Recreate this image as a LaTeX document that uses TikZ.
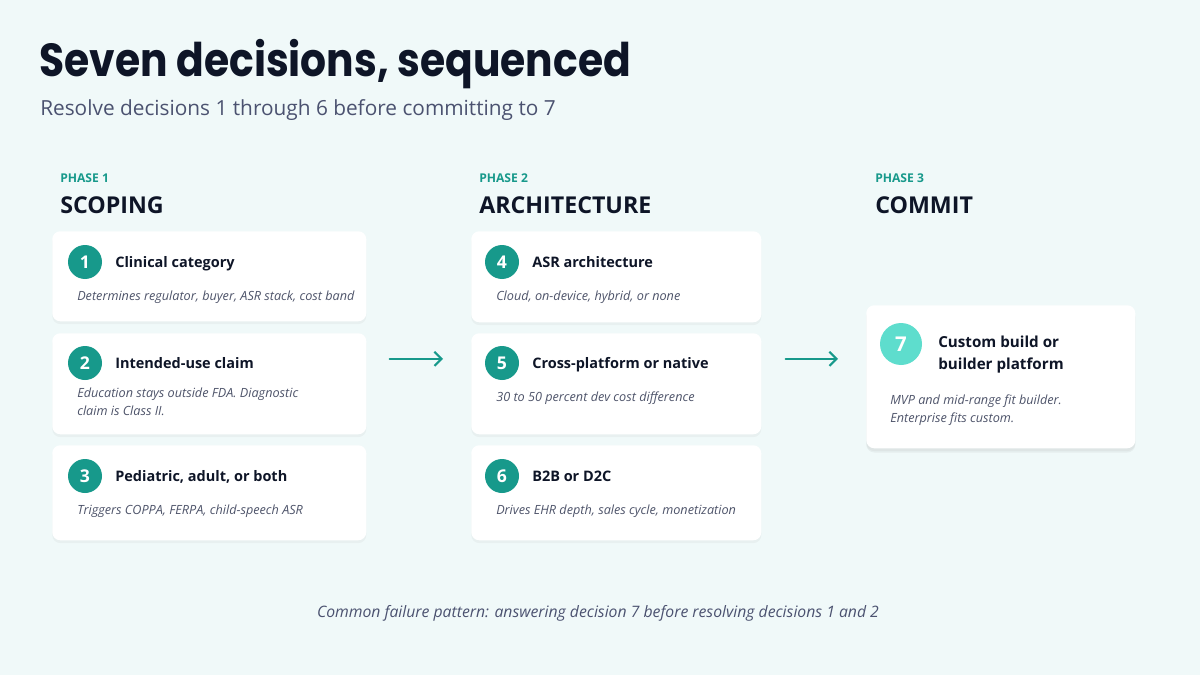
\documentclass[tikz,border=0pt]{standalone}
\usepackage{fontspec}
\setmainfont{Open Sans}
\newfontfamily\headfont{Poppins}
\usetikzlibrary{shadows,arrows.meta}

\definecolor{bgmint}{HTML}{F0F9F9}
\definecolor{tealmain}{HTML}{17998B}
\definecolor{teallight}{HTML}{5EDDCD}
\definecolor{inkdark}{HTML}{0E1527}
\definecolor{inkgray}{HTML}{4B5270}
\definecolor{descgray}{HTML}{4E546A}

\begin{document}
\begin{tikzpicture}[x=0.025cm,y=-0.025cm]

\def\px{0.025cm}

\tikzstyle{card} = [anchor=north west,fill=white,rounded corners=0.2cm,inner sep=0pt,drop shadow={shadow xshift=0pt,shadow yshift=-2pt,opacity=0.07}];
\tikzstyle{numdot} = [circle,fill=tealmain,minimum size=34*\px,inner sep=0pt,text=white,font=\bfseries\fontsize{12.5}{14}\selectfont];
\tikzstyle{ctitle} = [anchor=base west,inner sep=0pt,text=inkdark,font=\bfseries\fontsize{10.3}{15.6}\selectfont,align=left];
\tikzstyle{cdesc} = [anchor=base west,inner sep=0pt,text=descgray,font=\itshape\fontsize{9}{12.8}\selectfont,align=left];
\tikzstyle{phase} = [anchor=base west,inner sep=0pt,text=tealmain,font=\bfseries\fontsize{8.6}{10}\selectfont];
\tikzstyle{stage} = [anchor=base west,inner sep=0pt,text=inkdark,font=\bfseries\fontsize{16.5}{20}\selectfont];
\tikzstyle{flow} = [draw=tealmain,line width=1.5pt,line cap=round,-{Straight Barb[length=5pt,width=10pt,line width=1.5pt]}];

\useasboundingbox (0,0) rectangle (1200,675);
\fill [bgmint] (0,0) rectangle (1200,675);

\node [anchor=base west,inner sep=0pt,text=inkdark,font=\headfont\bfseries\fontsize{33}{38}\selectfont] (title) at (39,77) {\scalebox{0.88}[1]{Seven decisions, sequenced}};
\node [anchor=base west,inner sep=0pt,text=inkgray,font=\fontsize{14.8}{17}\selectfont] (subtitle) at (40,116) {Resolve decisions 1 through 6 before committing to 7};

\begin{scope}

\node [phase] (ph1) at (60,183) {PHASE 1};
\node [stage] (st1) at (60,214) {SCOPING};

\node [card,minimum width=314*\px,minimum height=90*\px] (c1) at (52,231) {};
\node [numdot] (n1) at ([xshift=33*\px,yshift=-31*\px]c1.north west) {1};
\node [ctitle] (t1) at ([xshift=30*\px,yshift=-5*\px]n1.center) {Clinical category};
\node [cdesc] (d1) at ([xshift=25*\px,yshift=-69*\px]c1.north west) {Determines regulator, buyer, ASR stack, cost band};

\node [card,minimum width=314*\px,minimum height=101*\px] (c2) at (52,333) {};
\node [numdot] (n2) at ([xshift=33*\px,yshift=-30*\px]c2.north west) {2};
\node [ctitle] (t2) at ([xshift=30*\px,yshift=-5*\px]n2.center) {Intended-use claim};
\node [cdesc] (d2) at ([xshift=25*\px,yshift=-82*\px]c2.north west) {Education stays outside FDA. Diagnostic\\claim is Class II.};

\node [card,minimum width=314*\px,minimum height=95*\px] (c3) at (52,445) {};
\node [numdot] (n3) at ([xshift=33*\px,yshift=-31*\px]c3.north west) {3};
\node [ctitle] (t3) at ([xshift=30*\px,yshift=-5*\px]n3.center) {Pediatric, adult, or both};
\node [cdesc] (d3) at ([xshift=25*\px,yshift=-69*\px]c3.north west) {Triggers COPPA, FERPA, child-speech ASR};

\end{scope}

\begin{scope}

\node [phase] (ph2) at (479,183) {PHASE 2};
\node [stage] (st2) at (479,214) {ARCHITECTURE};

\node [card,minimum width=290*\px,minimum height=91*\px] (c4) at (471,231) {};
\node [numdot] (n4) at ([xshift=31*\px,yshift=-31*\px]c4.north west) {4};
\node [ctitle] (t4) at ([xshift=30*\px,yshift=-5*\px]n4.center) {ASR architecture};
\node [cdesc] (d4) at ([xshift=25*\px,yshift=-69*\px]c4.north west) {Cloud, on-device, hybrid, or none};

\node [card,minimum width=290*\px,minimum height=101*\px] (c5) at (471,333) {};
\node [numdot] (n5) at ([xshift=31*\px,yshift=-30*\px]c5.north west) {5};
\node [ctitle] (t5) at ([xshift=30*\px,yshift=-5*\px]n5.center) {Cross-platform or native};
\node [cdesc] (d5) at ([xshift=25*\px,yshift=-68*\px]c5.north west) {30 to 50 percent dev cost difference};

\node [card,minimum width=290*\px,minimum height=95*\px] (c6) at (471,445) {};
\node [numdot] (n6) at ([xshift=31*\px,yshift=-31*\px]c6.north west) {6};
\node [ctitle] (t6) at ([xshift=30*\px,yshift=-5*\px]n6.center) {B2B or D2C};
\node [cdesc] (d6) at ([xshift=25*\px,yshift=-69*\px]c6.north west) {Drives EHR depth, sales cycle, monetization};

\end{scope}

\begin{scope}

\node [phase] (ph3) at (875,183) {PHASE 3};
\node [stage] (st3) at (875,214) {COMMIT};

\node [card,minimum width=269*\px,minimum height=143*\px,drop shadow={shadow xshift=0pt,shadow yshift=-3pt,opacity=0.09}] (c7) at (866,305) {};
\node [numdot,fill=teallight,minimum size=42*\px,font=\bfseries\fontsize{14.5}{17}\selectfont] (n7) at ([xshift=35*\px,yshift=-39*\px]c7.north west) {7};
\node [ctitle,anchor=north west,font=\bfseries\fontsize{10.8}{15.6}\selectfont] (t7) at ([xshift=37*\px,yshift=8*\px]n7.center) {Custom build or\\builder platform};
\node [cdesc] (d7) at ([xshift=24*\px,yshift=-117*\px]c7.north west) {MVP and mid-range fit builder.\\Enterprise fits custom.};

\end{scope}

\draw [flow] ([xshift=23*\px,yshift=25*\px]c2.east) -- ([xshift=-28*\px,yshift=25*\px]c5.west);
\draw [flow] ([xshift=24*\px,yshift=25*\px]c5.east) -- ([xshift=-28*\px,yshift=18*\px]c7.west);

\node [anchor=base,inner sep=0pt,text=inkgray,font=\itshape\fontsize{11.2}{13}\selectfont] (note) at (598,617) {Common failure pattern: answering decision 7 before resolving decisions 1 and 2};

\end{tikzpicture}
\end{document}
